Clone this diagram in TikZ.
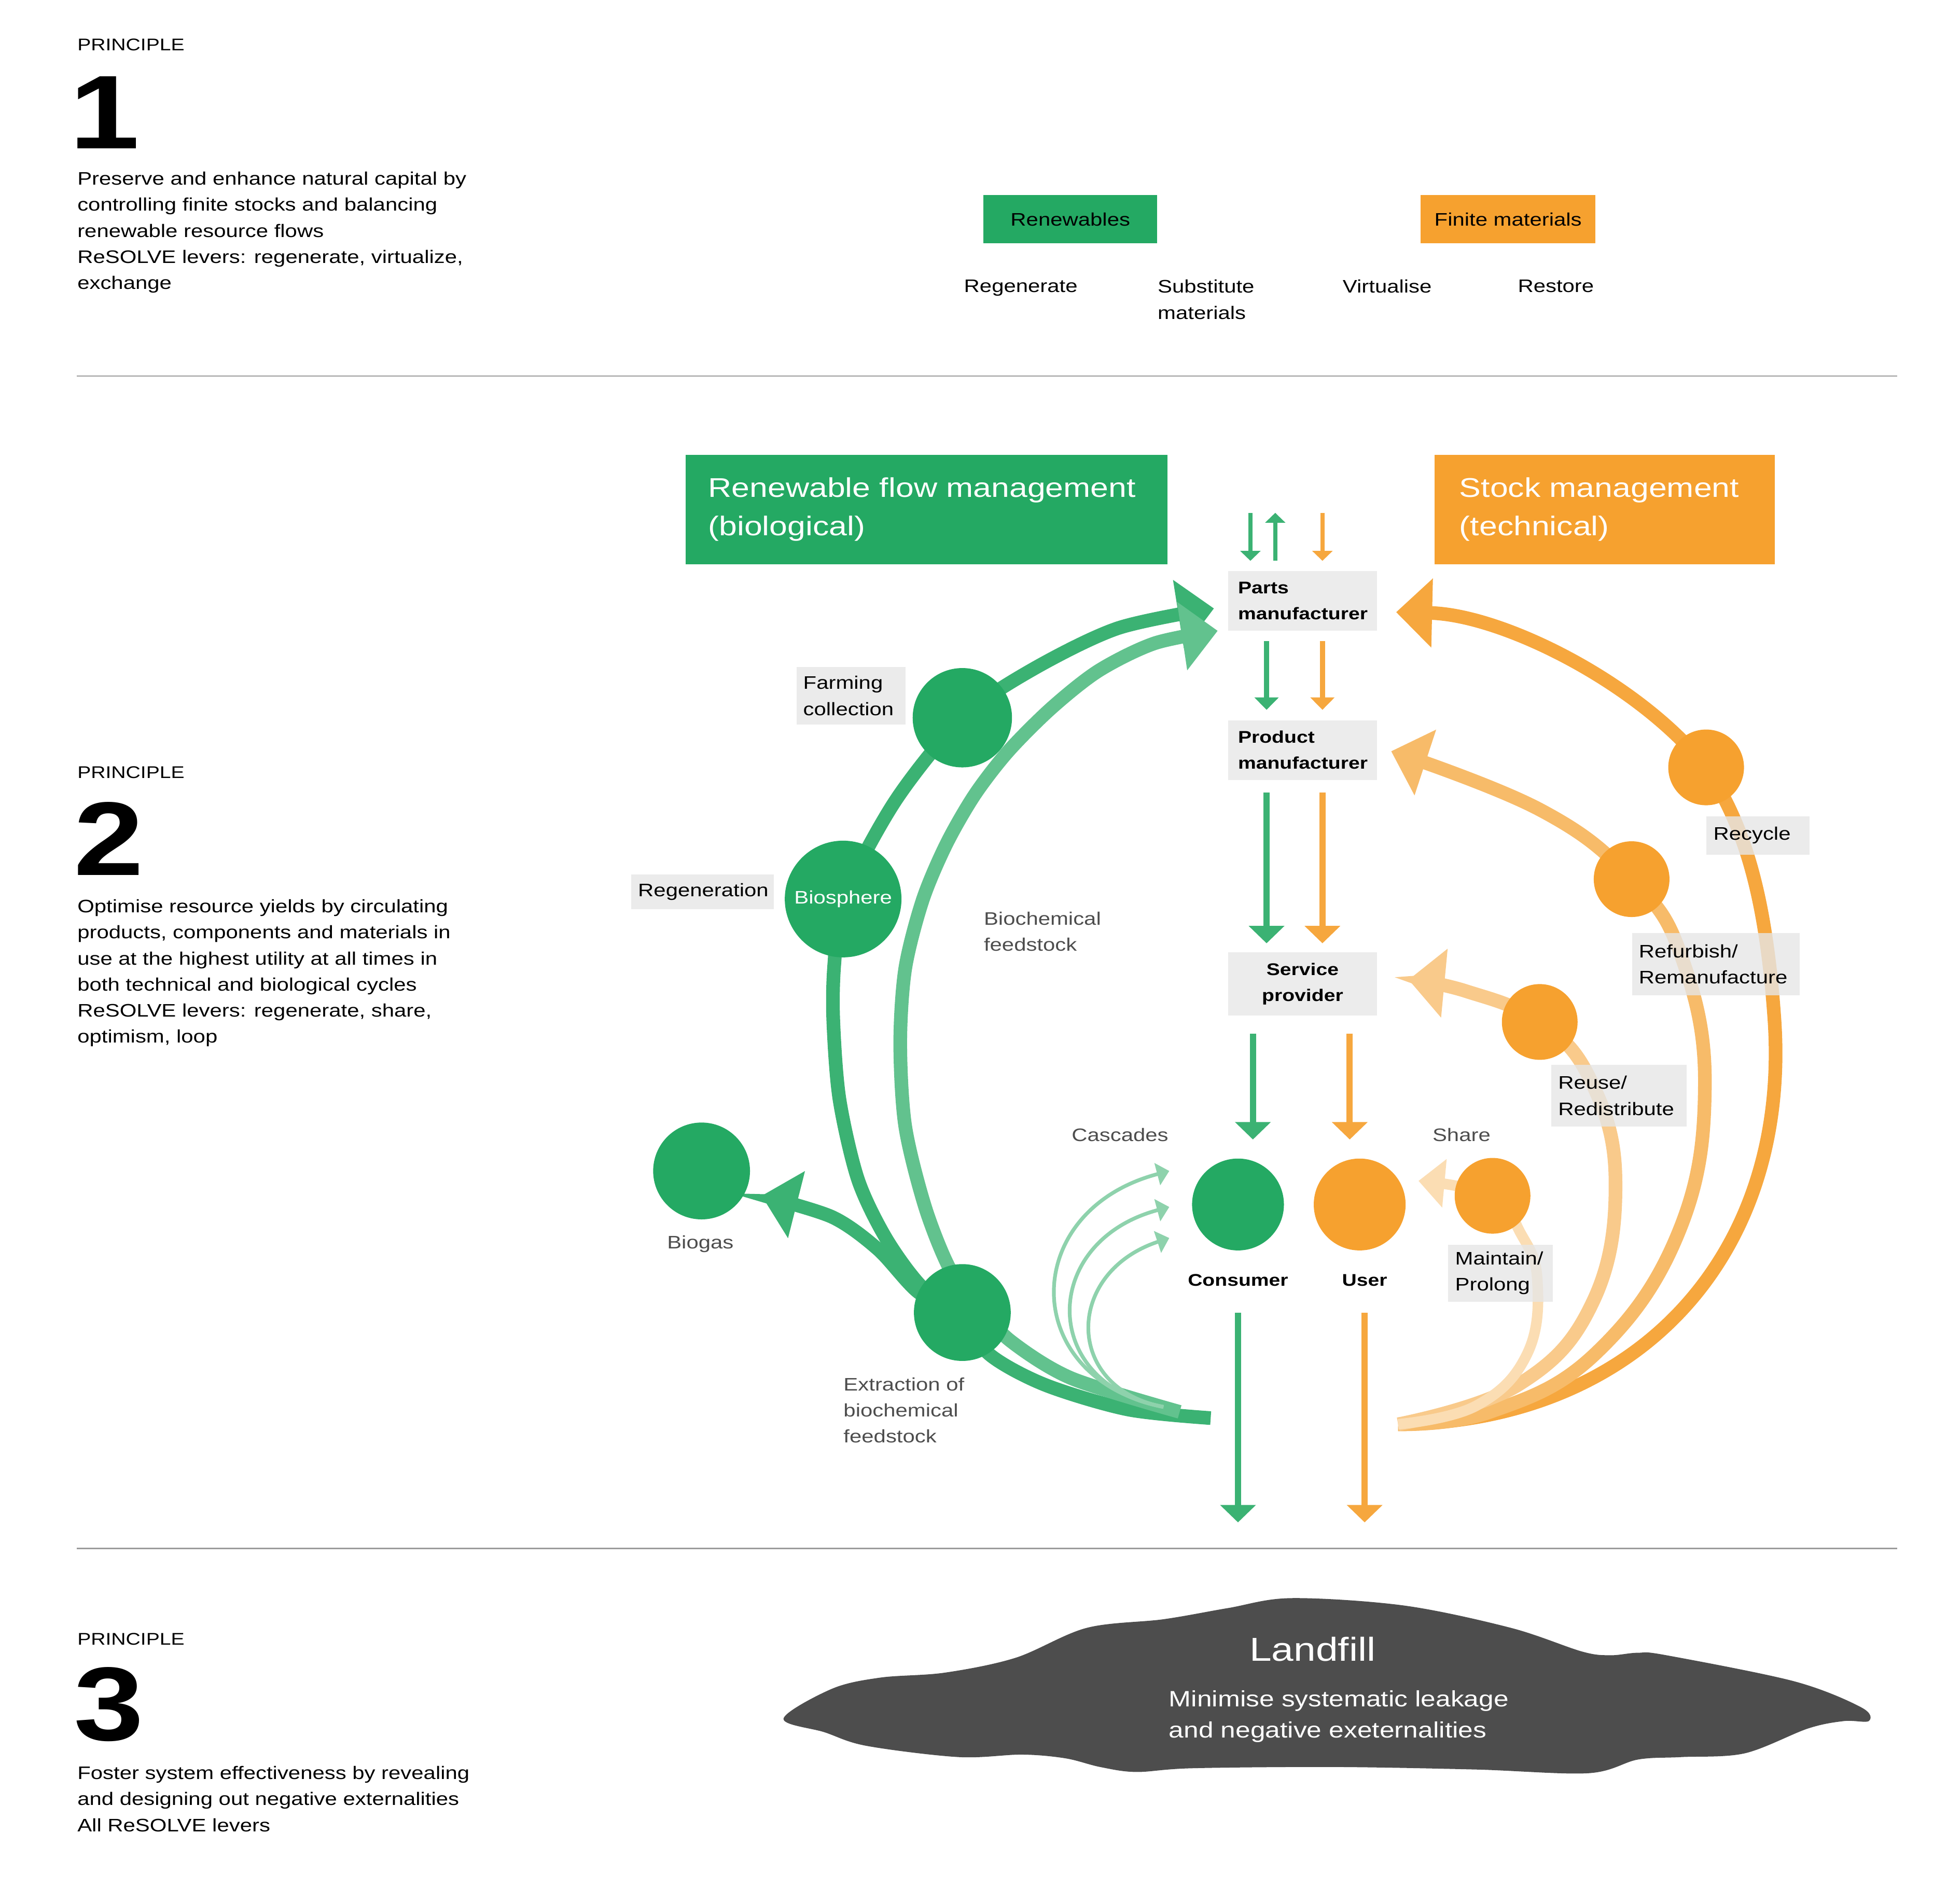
\documentclass[tikz,border=0pt]{standalone}
\usepackage{fontspec}
\setmainfont{Liberation Sans}[FakeStretch=1.2]
\usetikzlibrary{arrows.meta,backgrounds}

\definecolor{bioGreen}{HTML}{24A963}
\definecolor{arcGreen}{HTML}{3BB273}
\definecolor{arcGreenLt}{HTML}{62C28E}
\definecolor{cascGreen}{HTML}{8ED2AC}
\definecolor{techOrange}{HTML}{F6A12F}
\definecolor{arcOrange}{HTML}{F6A73E}
\definecolor{arcOrangeB}{HTML}{F7BB69}
\definecolor{arcOrangeC}{HTML}{F9CA8B}
\definecolor{arcOrangeD}{HTML}{FBDDB3}
\definecolor{lblGray}{HTML}{E6E6E6}
\definecolor{stageGray}{HTML}{ECECEC}
\definecolor{txtGray}{HTML}{4D4D4D}
\definecolor{ruleGray}{HTML}{9B9B9B}
\definecolor{dumpGray}{HTML}{4D4D4D}

\begin{document}
\begin{tikzpicture}[x=0.02cm, y=-0.02cm,
  txt/.style={font=\fontsize{8.3}{11.95}\selectfont, inner sep=0pt, align=left, anchor=north west},
  gtxt/.style={txt, text=txtGray},
  lbl/.style={txt, fill=lblGray, fill opacity=0.8, text opacity=1, inner xsep=0.11cm, inner ysep=0pt},
  stagebox/.style={font=\fontsize{7.75}{11.95}\selectfont\bfseries, fill=stageGray, inner xsep=0.16cm, inner ysep=0pt, minimum height=0.96cm, text width=2.08cm, align=left},
  princ/.style={font=\fontsize{7.75}{9}\selectfont, inner sep=0pt, anchor=west},
  bignum/.style={font=\fontsize{48}{48}\selectfont\bfseries, inner sep=0pt, anchor=south west},
  headbox/.style={font=\fontsize{12.4}{17.6}\selectfont, text=white, align=left, anchor=north west, minimum height=1.76cm, inner ysep=0pt},
  boldlbl/.style={font=\fontsize{7.75}{9}\selectfont\bfseries, inner sep=0pt},
  disc/.style={circle, inner sep=0pt},
  rule/.style={ruleGray, line width=0.5pt},
  arcw/.style={line width=0.22cm},
  bigtip/.style={-{Triangle[length=0.58cm,width=1.08cm]}},
  sharetip/.style={-{Triangle[length=0.42cm,width=0.76cm]}},
  casc/.style={cascGreen, line width=0.06cm, -{Triangle[length=0.2cm,width=0.36cm]}},
  arrS/.style={line width=0.07cm, -{Triangle[length=0.16cm,width=0.32cm]}},
  arrM/.style={line width=0.085cm, -{Triangle[length=0.2cm,width=0.38cm]}},
  arrL/.style={line width=0.1cm, -{Triangle[length=0.28cm,width=0.56cm]}}]
\useasboundingbox (0,0) rectangle (1568,1533);

% principles column
\node[princ] (pr1) at (62,36) {PRINCIPLE};
\node[bignum] (num1) at (56,120) {1};
\node[txt] (desc1) at (62,138) {Preserve and enhance natural capital by\\controlling finite stocks and balancing\\renewable resource flows\\ReSOLVE levers: regenerate, virtualize,\\exchange};

\node[princ] (pr2) at (62,622) {PRINCIPLE};
\node[bignum] (num2) at (59,705) {2};
\node[txt] (desc2) at (62,724) {Optimise resource yields by circulating\\products, components and materials in\\use at the highest utility at all times in\\both technical and biological cycles\\ReSOLVE levers: regenerate, share,\\optimism, loop};

\node[princ] (pr3) at (62,1320) {PRINCIPLE};
\node[bignum] (num3) at (59,1403) {3};
\node[txt] (desc3) at (62,1422) {Foster system effectiveness by revealing\\and designing out negative externalities\\All ReSOLVE levers};

\draw[rule] (62,303) -- (1528,303);
\draw[rule] (62,1247) -- (1528,1247);

% resources and levers
\node[txt, anchor=center, align=center, fill=bioGreen, minimum width=2.8cm, minimum height=0.78cm] (renew) at (862,176.5) {Renewables};
\node[txt, anchor=center, align=center, fill=techOrange, minimum width=2.82cm, minimum height=0.78cm] (finite) at (1214.5,176.5) {Finite materials};
\node[txt] (lvRegen) at (776,225) {Regenerate};
\node[txt] (lvSubst) at (932,225) {Substitute\\materials};
\node[txt] (lvVirt) at (1081,225) {Virtualise};
\node[txt] (lvRest) at (1222,225) {Restore};

% management headers
\node[headbox, fill=bioGreen, text width=7.04cm, inner xsep=0.36cm] (bioHead) at (552,366) {Renewable flow management\\(biological)};
\node[headbox, fill=techOrange, text width=4.68cm, inner xsep=0.4cm] (techHead) at (1155,366) {Stock management\\(technical)};

% value chain
\node[stagebox] (parts) at (1049,484) {Parts\\manufacturer};
\node[stagebox] (product) at (1049,604) {Product\\manufacturer};
\node[stagebox, align=center, minimum height=1.02cm] (service) at (1049,792.5) {Service\\provider};

% circles
\node[disc, fill=bioGreen, minimum size=1.6cm] (farm) at (775,578) {};
\node[disc, fill=bioGreen, minimum size=1.88cm, text=white, font=\fontsize{8.3}{10}\selectfont] (biosph) at (679,724) {Biosphere};
\node[disc, fill=bioGreen, minimum size=1.56cm] (biogas) at (565,943) {};
\node[disc, fill=bioGreen, minimum size=1.56cm] (extr) at (775,1057) {};
\node[disc, fill=bioGreen, minimum size=1.48cm] (consumer) at (997,970) {};
\node[disc, fill=techOrange, minimum size=1.48cm] (user) at (1095,970) {};
\node[disc, fill=techOrange, minimum size=1.22cm] (maint) at (1202,963) {};
\node[disc, fill=techOrange, minimum size=1.22cm] (reuse) at (1240,823) {};
\node[disc, fill=techOrange, minimum size=1.22cm] (refurb) at (1314,708) {};
\node[disc, fill=techOrange, minimum size=1.22cm] (recyc) at (1374,618) {};

% labels
\node[lbl, text width=1.54cm, minimum height=0.92cm] (farmLbl) at (641,537) {Farming\\collection};
\node[lbl, text width=2.08cm, minimum height=0.56cm] (regenLbl) at (508,704) {Regeneration};
\node[lbl, text width=1.44cm, minimum height=0.62cm] (recycLbl) at (1374,657) {Recycle};
\node[lbl, text width=2.48cm, minimum height=1cm] (refurbLbl) at (1314,751) {Refurbish/\\Remanufacture};
\node[lbl, text width=1.96cm, minimum height=1cm] (reuseLbl) at (1249,857) {Reuse/\\Redistribute};
\node[lbl, text width=1.46cm, minimum height=0.92cm] (maintLbl) at (1166,1002) {Maintain/\\Prolong};
\node[gtxt] (biochemLbl) at (792,734) {Biochemical\\feedstock};
\node[gtxt] (extrLbl) at (679,1109) {Extraction of\\biochemical\\feedstock};
\node[gtxt, anchor=center] (biogasLbl) at (564,1002) {Biogas};
\node[gtxt, anchor=center] (cascLbl) at (902,914) {Cascades};
\node[gtxt, anchor=center] (shareLbl) at (1177,914) {Share};
\node[boldlbl] (consLbl) at (997,1031) {Consumer};
\node[boldlbl] (userLbl) at (1099,1031) {User};

% end points
\coordinate (gEnd) at (975,1142);
\coordinate (lEnd) at (950,1137);
\coordinate (cStart) at (937,1133);
\coordinate (oEnd) at (1126,1147);
\coordinate (oRight) at (1429,821);
\coordinate (gTip) at ([xshift=-0.22cm,yshift=-0.12cm]parts.west);
\coordinate (lTip) at ([xshift=-0.16cm,yshift=-0.48cm]parts.west);
\coordinate (rcTip) at ([xshift=0.3cm,yshift=-0.18cm]parts.east);
\coordinate (rfTip) at ([xshift=0.22cm,yshift=-0.02cm]product.east);
\coordinate (ruTip) at ([xshift=0.5cm,yshift=0.07cm]service.east);
\coordinate (shTip) at ([xshift=0.2cm,yshift=0.38cm]user.east);
\coordinate (bgTip) at ([xshift=0.18cm,yshift=-0.4cm]biogas.east);
\coordinate (cTip1) at ([xshift=-0.36cm,yshift=0.54cm]consumer.west);
\coordinate (cTip2) at ([xshift=-0.36cm,yshift=-0.04cm]consumer.west);
\coordinate (cTip3) at ([xshift=-0.36cm,yshift=-0.54cm]consumer.west);
\coordinate (gIn) at (1007,413);
\coordinate (gOut) at (1027,413);
\coordinate (oIn) at (1065,413);
\coordinate (gDump) at (997,1226);
\coordinate (oDump) at (1099,1226);

\begin{scope}[on background layer]
% biological loop
\draw[arcw, arcGreen, bigtip] plot[smooth] coordinates {(gEnd) (908,1135) (841,1115) (796,1090) (extr.center) (743,1037) (714,998) (691,950) (676,885) (671,820) (672,775) (biosph.center) (721,645) (farm.center) (830,540) (900,506) (gTip)};
\draw[arcw, arcGreen, bigtip] plot[smooth] coordinates {(extr.center) (740,1041) (707,1006) (670,980) (bgTip)};
\draw[arcw, arcGreenLt, bigtip] plot[smooth] coordinates {(lEnd) (863,1110) (814,1080) (788,1052) (765,1022) (745,972) (729,907) (725,840) (729,780) (743,725) (762,680) (785,640) (812,605) (847,570) (885,540) (930,518) (lTip)};
\draw[casc] (cStart) .. controls (820,1110) and (820,975) .. (cTip1);
\draw[casc] (cStart) .. controls (837,1115) and (837,1000) .. (cTip2);
\draw[casc] (cStart) .. controls (857,1118) and (857,1025) .. (cTip3);
% technical loops
\draw[arcw, arcOrange, bigtip] (oEnd) .. controls (1320,1145) and (1442,1010) .. (oRight) .. controls (1422,721) and (1405,665) .. (recyc.center) .. controls (1320,550) and (1210,495) .. (rcTip);
\draw[arcw, arcOrangeB, bigtip] plot[smooth, tension=0.7] coordinates {(oEnd) (1200,1137) (1285,1090) (1352,992) (1373,874) (1354,770) (refurb.center) (1240,652) (rfTip)};
\draw[arcw, arcOrangeC, bigtip] plot[smooth, tension=0.7] coordinates {(oEnd) (1223,1115) (1283,1048) (1301,950) (1281,870) (reuse.center) (1180,798) (ruTip)};
\draw[line width=0.17cm, arcOrangeD, sharetip] plot[smooth, tension=0.7] coordinates {(oEnd) (1189,1132) (1230,1090) (1238,1030) (1224,992) (maint.center) (shTip)};
\end{scope}

% flows along the chain
\draw[arrS, arcGreen, shorten >=0.16cm] (gIn) -- (gIn |- parts.north);
\draw[arrS, arcGreen, shorten <=0.16cm] (gOut |- parts.north) -- (gOut);
\draw[arrS, arcOrange, shorten >=0.16cm] (oIn) -- (oIn |- parts.north);
\draw[arrM, arcGreen, shorten <=0.16cm, shorten >=0.16cm] ([xshift=-0.58cm]parts.south) -- ([xshift=-0.58cm]product.north);
\draw[arrM, arcOrange, shorten <=0.16cm, shorten >=0.16cm] ([xshift=0.32cm]parts.south) -- ([xshift=0.32cm]product.north);
\draw[arrL, arcGreen, shorten <=0.2cm, shorten >=0.14cm] ([xshift=-0.58cm]product.south) -- ([xshift=-0.58cm]service.north);
\draw[arrL, arcOrange, shorten <=0.2cm, shorten >=0.14cm] ([xshift=0.32cm]product.south) -- ([xshift=0.32cm]service.north);
\draw[arrL, arcGreen, shorten <=0.28cm, shorten >=0.3cm] ([xshift=-0.8cm]service.south) -- ([xshift=-0.8cm]service.south |- consumer.north);
\draw[arrL, arcOrange, shorten <=0.28cm, shorten >=0.3cm] ([xshift=0.76cm]service.south) -- ([xshift=0.76cm]service.south |- user.north);
\draw[arrL, arcGreen, shorten <=0.42cm] (consLbl.south) -- (gDump);
\draw[arrL, arcOrange, shorten <=0.42cm] (userLbl.south) -- (oDump);

% landfill
\fill[dumpGray] plot[smooth cycle, tension=0.55] coordinates {(631,1384) (670,1360) (709,1351) (761,1347) (818,1335) (875,1311) (937,1304) (989,1295) (1040,1287) (1131,1293) (1217,1311) (1274,1330) (1297,1333) (1319,1331) (1342,1333) (1445,1354) (1499,1375) (1505,1386) (1485,1386) (1456,1392) (1405,1412) (1354,1415) (1319,1417) (1279,1428) (1188,1425) (1074,1423) (960,1424) (915,1427) (886,1423) (858,1416) (823,1413) (772,1415) (698,1406) (664,1395)};
\node[text=white, font=\fontsize{15.2}{18}\selectfont, inner sep=0pt] (dumpLbl) at (1057,1328) {Landfill};
\node[txt, text=white, font=\fontsize{10.2}{14.2}\selectfont] (leakLbl) at (941,1361) {Minimise systematic leakage\\and negative exeternalities};
\end{tikzpicture}
\end{document}
